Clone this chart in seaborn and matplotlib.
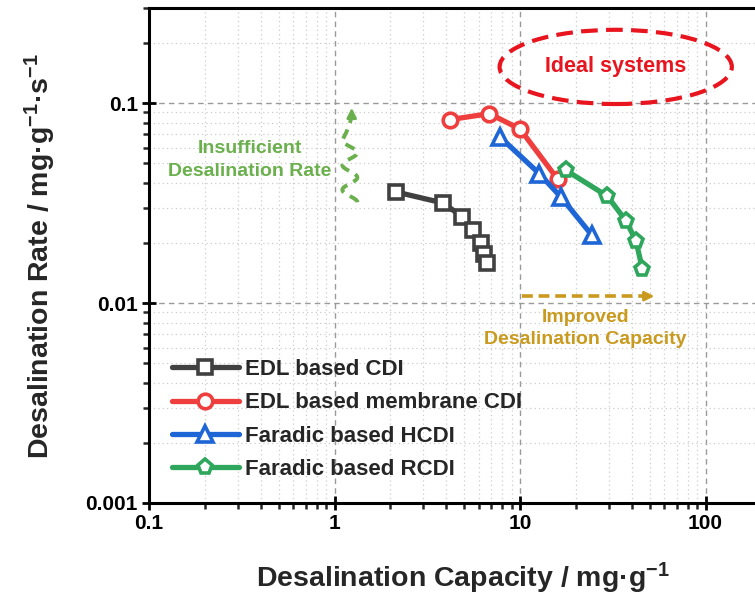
import numpy as np
import pandas as pd
import matplotlib
matplotlib.use("Agg")
import matplotlib.pyplot as plt
import seaborn as sns
from matplotlib.patches import Ellipse
from matplotlib.ticker import (LogLocator, FixedLocator, FuncFormatter,
                               NullFormatter)

# Desalination capacity (mg/g) and rate (mg/g/s) for each CDI family
edl_cap = [2.15, 3.86, 4.89, 5.56, 6.14, 6.40, 6.61]
edl_rate = [0.0360, 0.0317, 0.0270, 0.0232, 0.0200, 0.0177, 0.0158]
mcdi_cap = [4.19, 6.83, 10.0, 16.0]
mcdi_rate = [0.0829, 0.0888, 0.0744, 0.0416]
hcdi_cap = [7.8, 12.7, 16.6, 24.4]
hcdi_rate = [0.0679, 0.0445, 0.0340, 0.0219]
rcdi_cap = [17.7, 29.6, 37.3, 42.2, 45.6]
rcdi_rate = [0.0462, 0.0343, 0.0258, 0.0205, 0.0149]

series_names = ["EDL based CDI", "EDL based membrane CDI",
                "Faradic based HCDI", "Faradic based RCDI"]
series_colors = ["#404040", "#EE3E3E", "#1E66D6", "#2EA65C"]
series_markers = ["s", "o", "^", "p"]
marker_sizes = [10.0, 10.5, 11.5, 11.0]

x_ticks = [0.1, 1, 10, 100]
y_ticks = [0.001, 0.01, 0.1]

frames = []
for name, cap, rate in zip(series_names,
                           [edl_cap, mcdi_cap, hcdi_cap, rcdi_cap],
                           [edl_rate, mcdi_rate, hcdi_rate, rcdi_rate]):
    frames.append(pd.DataFrame({"capacity": cap, "rate": rate, "system": name}))
df = pd.concat(frames, ignore_index=True)

sns.set_theme(style="ticks")
plt.rcParams["font.family"] = ["Liberation Sans", "DejaVu Sans"]
plt.rcParams["font.weight"] = "bold"
plt.rcParams["mathtext.fontset"] = "custom"
plt.rcParams["mathtext.bf"] = "Liberation Sans:bold"
plt.rcParams["mathtext.rm"] = "Liberation Sans:bold"
plt.rcParams["mathtext.default"] = "bf"

fig = plt.figure(figsize=(7.55, 6.01), dpi=100)
ax = fig.add_axes([149 / 755, 98 / 601, 742 / 755, 495 / 601])
ax.set_xscale("log")
ax.set_yscale("log")
ax.set_xlim(0.1, 1000)
ax.set_ylim(0.001, 0.3)

for name, color, marker, ms in zip(series_names, series_colors,
                                   series_markers, marker_sizes):
    sub = df[df["system"] == name]
    sns.lineplot(data=sub, x="capacity", y="rate", ax=ax, sort=False,
                 estimator=None, color=color, linewidth=3.8, marker=marker,
                 markersize=ms, markerfacecolor="white",
                 markeredgecolor=color, markeredgewidth=2.6, label=name,
                 zorder=3)

# grid
ax.grid(which="major", linestyle=(0, (4, 3)), color="#9a9a9a", linewidth=1.0)
ax.grid(which="minor", linestyle=(0, (1, 2.5)), color="#cccccc", linewidth=0.9)
ax.set_axisbelow(True)

# ticks
ax.xaxis.set_major_locator(FixedLocator(x_ticks))
ax.yaxis.set_major_locator(FixedLocator(y_ticks))
ax.xaxis.set_minor_locator(LogLocator(base=10, subs=np.arange(2, 10), numticks=20))
ax.yaxis.set_minor_locator(LogLocator(base=10, subs=np.arange(2, 10), numticks=20))
fmt = FuncFormatter(lambda v, p: f"{v:g}")
ax.xaxis.set_major_formatter(fmt)
ax.yaxis.set_major_formatter(fmt)
ax.xaxis.set_minor_formatter(NullFormatter())
ax.yaxis.set_minor_formatter(NullFormatter())
ax.tick_params(which="major", direction="inout", length=10, width=2.0,
               labelsize=15, pad=3, colors="black")
ax.tick_params(which="minor", direction="out", length=4.5, width=1.8)
ax.tick_params(top=False, right=False, which="both")
for lab in ax.get_xticklabels() + ax.get_yticklabels():
    lab.set_fontweight("bold")

for side in ["left", "bottom", "top"]:
    ax.spines[side].set_linewidth(2.2)
    ax.spines[side].set_color("black")
ax.spines["right"].set_visible(False)

ax.set_xlabel(r"Desalination Capacity / mg·g$^{-1}$", fontsize=20.5,
              fontweight="bold", va="center")
ax.set_ylabel(r"Desalination Rate / mg·g$^{-1}$·s$^{-1}$", fontsize=20.5,
              fontweight="bold", va="center")
ax.xaxis.set_label_coords(0.423, -0.152)
ax.yaxis.set_label_coords(-0.147, 0.5)

# legend
leg = ax.legend(loc="lower left", bbox_to_anchor=(0.031, 0.046), frameon=False,
                fontsize=16, handlelength=3.0, handletextpad=0.3,
                labelspacing=0.56, borderpad=0, borderaxespad=0)
for t in leg.get_texts():
    t.set_fontweight("bold")

# "Ideal systems" region
red = "#E8141E"
ax.add_patch(Ellipse((0.629, 0.881), 0.313, 0.150, transform=ax.transAxes,
                     fill=False, edgecolor=red, linewidth=3.0,
                     linestyle=(0, (4, 2)), zorder=4))
ax.text(0.629, 0.881, "Ideal systems", transform=ax.transAxes, color=red,
        fontsize=15.5, fontweight="bold", ha="center", va="center")

# insufficient-rate indicator: wavy dashed arrow
green = "#6AB04C"
xc = 1.21
amp = 0.0405
n = np.linspace(0, 5, 200)
wave_ylog = -1.495 + n * (0.310 / 5)
wave_xlog = np.log10(xc) + amp * np.cos(np.pi * n)
tail_ylog = np.linspace(wave_ylog[-1], -1.04, 30)
tail_xlog = np.log10(xc) - amp + (amp + 0.01) * np.sin(
    np.linspace(0, np.pi / 2, 30))
ax.plot(10 ** np.r_[wave_xlog, tail_xlog], 10 ** np.r_[wave_ylog, tail_ylog],
        color=green, linewidth=2.8, linestyle=(0, (2.6, 1.8)), zorder=4)
ax.annotate("", xy=(10 ** (np.log10(xc) + 0.01), 0.095),
            xytext=(10 ** (np.log10(xc) + 0.01), 0.088),
            arrowprops=dict(arrowstyle="-|>", color=green, lw=2.0,
                            mutation_scale=14, shrinkA=0, shrinkB=0))
ax.text(0.35, 0.052, "Insufficient\nDesalination Rate", color=green,
        fontsize=14, fontweight="bold", ha="center", va="center",
        linespacing=1.45)

# improved-capacity indicator: dashed arrow
gold = "#C99A1E"
ax.plot([10.26, 47.0], [0.01084, 0.01084], color=gold, linewidth=2.6,
        linestyle=(0, (3, 1.6)), zorder=4)
ax.annotate("", xy=(53.0, 0.01084), xytext=(47.0, 0.01084),
            arrowprops=dict(arrowstyle="-|>", color=gold, lw=2.0,
                            mutation_scale=14, shrinkA=0, shrinkB=0))
ax.text(22.6, 0.00745, "Improved\nDesalination Capacity", color=gold,
        fontsize=14, fontweight="bold", ha="center", va="center",
        linespacing=1.4)

fig.savefig("out.png", dpi=100)
